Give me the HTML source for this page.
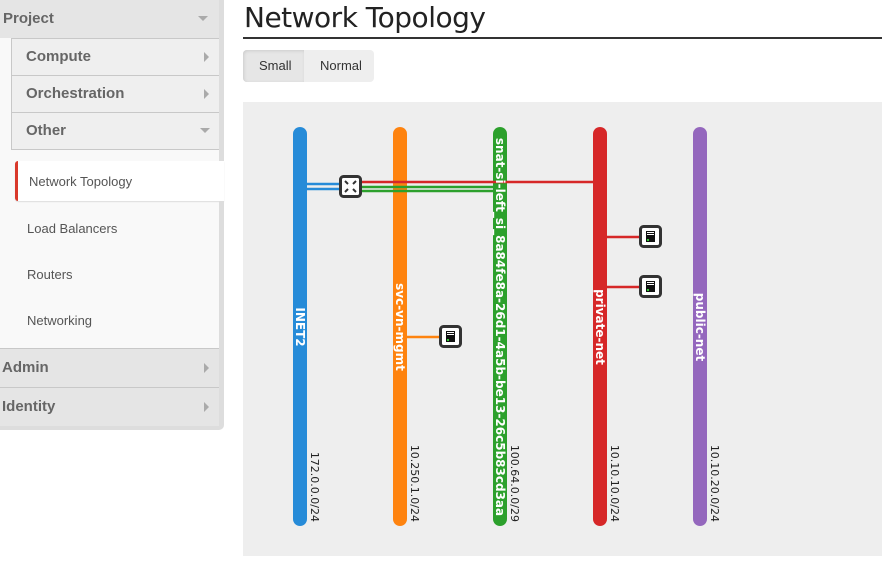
<!DOCTYPE html>
<html><head><meta charset="utf-8"><style>
body{margin:0;width:882px;height:569px;background:#fff;font-family:"Liberation Sans",sans-serif;position:relative;overflow:hidden}
.a{position:absolute;box-sizing:border-box}
.h{font-weight:bold;font-size:15px;color:#666;}
.sub{font-size:13px;color:#555}
.tri-d{width:0;height:0;border-left:5px solid transparent;border-right:5px solid transparent;border-top:5px solid #aaa;position:absolute}
.tri-r{width:0;height:0;border-top:5px solid transparent;border-bottom:5px solid transparent;border-left:5px solid #aaa;position:absolute}
</style></head><body>
<!-- sidebar -->
<div class="a" style="left:0;top:0;width:224px;height:430px;background:#ddd;border-radius:0 0 5px 0"></div>
<div class="a" style="left:0;top:0;width:219px;height:38px;background:#e5e5e5"></div>
<div class="a h" style="left:3px;top:10px">Project</div>
<div class="tri-d" style="left:198px;top:16px"></div>
<div class="a" style="left:0;top:38px;width:219px;height:310px;background:#f9f9f9"></div>
<div class="a" style="left:11px;top:38px;width:208px;height:112px;background:#efefef;border:1px solid #c8c8c8;border-right:none"></div>
<div class="a" style="left:11px;top:75px;width:208px;height:1px;background:#c8c8c8"></div>
<div class="a" style="left:11px;top:112px;width:208px;height:1px;background:#c8c8c8"></div>
<div class="a h" style="left:26px;top:48px">Compute</div>
<div class="tri-r" style="left:204px;top:52px"></div>
<div class="a h" style="left:26px;top:85px">Orchestration</div>
<div class="tri-r" style="left:204px;top:89px"></div>
<div class="a h" style="left:26px;top:122px">Other</div>
<div class="tri-d" style="left:200px;top:128px"></div>
<div class="a" style="left:15px;top:161px;width:209px;height:40px;background:#fff;border-left:3px solid #d9392b;border-radius:3px 0 0 3px;box-shadow:0 1px 1px #ddd"></div>
<div class="a sub" style="left:29px;top:174px">Network Topology</div>
<div class="a sub" style="left:27px;top:221px">Load Balancers</div>
<div class="a sub" style="left:27px;top:267px">Routers</div>
<div class="a sub" style="left:27px;top:313px">Networking</div>
<div class="a" style="left:0;top:348px;width:219px;height:78px;background:#e5e5e5;border-top:1px solid #c8c8c8"></div>
<div class="a" style="left:0;top:387px;width:219px;height:1px;background:#c8c8c8"></div>
<div class="a h" style="left:2px;top:359px">Admin</div>
<div class="tri-r" style="left:204px;top:363px"></div>
<div class="a h" style="left:2px;top:398px">Identity</div>
<div class="tri-r" style="left:204px;top:402px"></div>
<!-- header -->
<div class="a" style="left:244px;top:1px;font-size:28px;color:#222;font-family:'DejaVu Sans',sans-serif;letter-spacing:-0.5px">Network Topology</div>
<div class="a" style="left:243px;top:37px;width:639px;height:2px;background:#333"></div>
<div class="a" style="left:243px;top:50px;width:131px;height:32px;background:#eee;border-radius:4px"></div>
<div class="a" style="left:243px;top:50px;width:61px;height:32px;background:#e6e6e6;border-radius:4px 0 0 4px;box-shadow:inset 1px 1px 3px #ccc"></div>
<div class="a" style="left:259px;top:58px;font-size:13px;color:#333">Small</div>
<div class="a" style="left:320px;top:58px;font-size:13px;color:#333">Normal</div>
<!-- diagram -->
<svg class="a" style="left:243px;top:102px" width="639" height="454" viewBox="243 102 639 454">
<rect x="243" y="102" width="639" height="454" fill="#eee"/>
<g stroke-linecap="round" stroke-width="14">
<line x1="300" y1="134" x2="300" y2="519" stroke="#268bd8"/>
<line x1="400" y1="134" x2="400" y2="519" stroke="#fe830f"/>
<line x1="500" y1="134" x2="500" y2="519" stroke="#2ca02c"/>
<line x1="600" y1="134" x2="600" y2="519" stroke="#d62728"/>
<line x1="700" y1="134" x2="700" y2="519" stroke="#9467bd"/>
</g>
<g stroke-width="2.5">
<line x1="307" y1="184" x2="345" y2="184" stroke="#268bd8"/>
<line x1="307" y1="189" x2="345" y2="189" stroke="#268bd8"/>
<line x1="355" y1="182" x2="593" y2="182" stroke="#d62728"/>
<line x1="355" y1="187" x2="493" y2="187" stroke="#2ca02c"/>
<line x1="355" y1="191" x2="493" y2="191" stroke="#2ca02c"/>
<line x1="607" y1="237" x2="645" y2="237" stroke="#d62728"/>
<line x1="607" y1="287" x2="645" y2="287" stroke="#d62728"/>
<line x1="407" y1="337" x2="445" y2="337" stroke="#fe830f"/>
</g>
<g>
<rect x="340.5" y="176.5" width="20" height="20" rx="3" fill="#fff" stroke="#333" stroke-width="3"/>
<path d="M345 181l3 3M356 181l-3 3M345 192l3-3M356 192l-3-3" stroke="#333" stroke-width="2"/>
</g>
<g id="srv">
<rect x="640.5" y="226.5" width="20" height="20" rx="3" fill="#fff" stroke="#333" stroke-width="3"/>
<rect x="646" y="231" width="9" height="11" fill="#111"/>
<rect x="647" y="232" width="7" height="1" fill="#fff"/><rect x="647" y="234" width="7" height="1" fill="#fff"/>
<rect x="647" y="239" width="2" height="2" fill="#3c3"/>
</g>
<use href="#srv" y="50"/>
<use href="#srv" x="-200" y="100"/>
<g font-family="'DejaVu Sans',sans-serif" font-weight="bold" font-size="12" fill="#fff" text-anchor="middle">
<text transform="translate(296,327) rotate(90)">INET2</text>
<text transform="translate(396,327) rotate(90)">svc-vn-mgmt</text>
<text transform="translate(496,327) rotate(90)">snat-si-left_si_8a84fe8a-26d1-4a5b-be13-26c5b83cd3aa</text>
<text transform="translate(596,327) rotate(90)">private-net</text>
<text transform="translate(696,327) rotate(90)">public-net</text>
</g>
<g font-family="'DejaVu Sans',sans-serif" font-size="11" fill="#222" text-anchor="end">
<text transform="translate(311,522) rotate(90)">172.0.0.0/24</text>
<text transform="translate(411,522) rotate(90)">10.250.1.0/24</text>
<text transform="translate(511,522) rotate(90)">100.64.0.0/29</text>
<text transform="translate(611,522) rotate(90)">10.10.10.0/24</text>
<text transform="translate(711,522) rotate(90)">10.10.20.0/24</text>
</g>
</svg>
</body></html>
